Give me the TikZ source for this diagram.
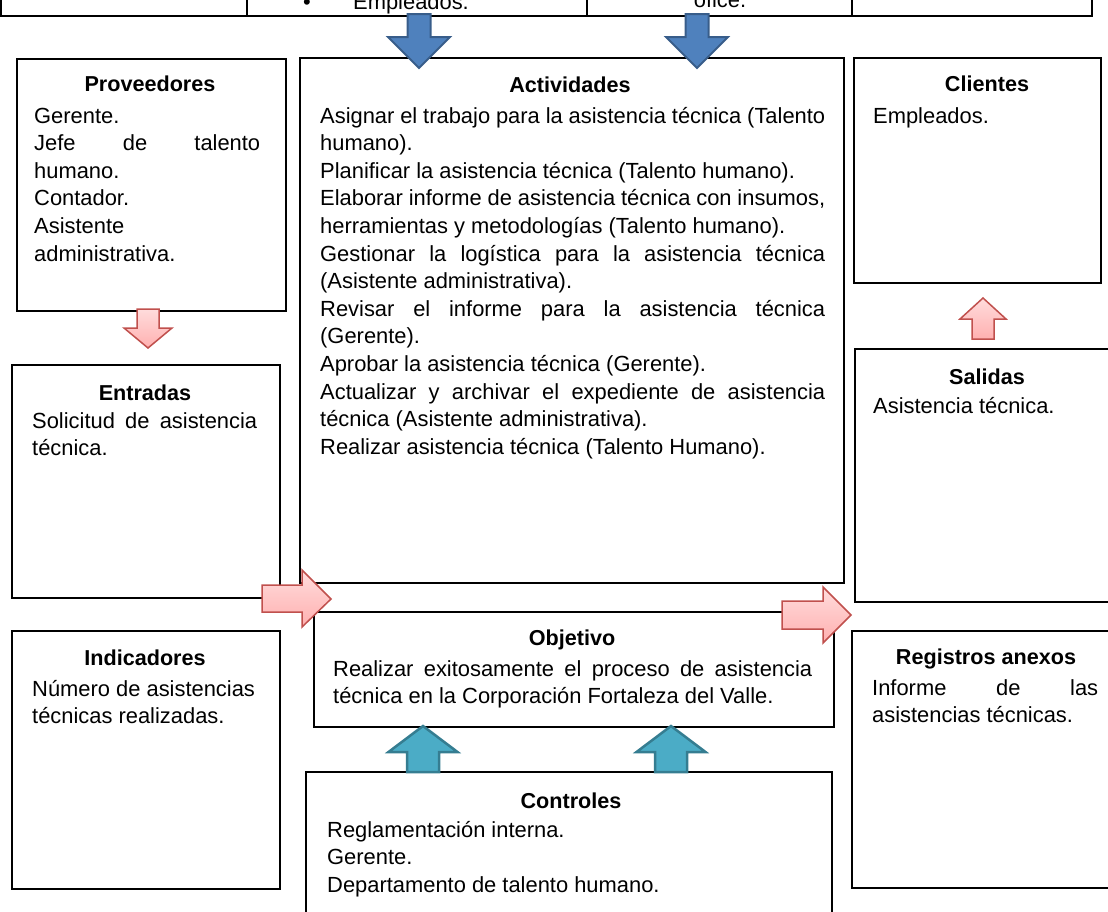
\documentclass[tikz,border=0pt]{standalone}
\usepackage{fontspec}
\setmainfont{Liberation Sans}
\definecolor{bluefill}{HTML}{4F81BD}
\definecolor{blueline}{HTML}{385D8A}
\definecolor{tealfill}{HTML}{4BACC6}
\definecolor{tealline}{HTML}{357D91}
\definecolor{pinkline}{HTML}{C0504D}
\definecolor{pinktop}{HTML}{FFDCDC}
\definecolor{pinkbot}{HTML}{FFB0B0}
\tolerance=10000
\hyphenpenalty=10000

\begin{document}
\begin{tikzpicture}[x=1pt,y=-1pt,
    box/.style={draw, line width=1.5pt, anchor=north west, inner sep=0pt},
    ttl/.style={anchor=base, inner sep=0pt, font=\fontsize{21.6}{27.6}\selectfont\bfseries},
    txt/.style={anchor=base west, inner sep=0pt, align=justify, font=\fontsize{21.9}{27.6}\selectfont},
    pinkarrow/.style={draw=pinkline, line width=1.5pt, top color=pinktop, bottom color=pinkbot},
    bluearrow/.style={draw=blueline, fill=bluefill, line width=2pt},
    tealarrow/.style={draw=tealline, fill=tealfill, line width=2.5pt}]
    \clip (0,0) rectangle (1108,911);
    \draw[line width=1.5pt] (1,-5) -- (1,16) -- (1092,16) -- (1092,-5);
    \foreach \xx in {247,587,852}
        \draw[line width=1.5pt] (\xx,-5) -- (\xx,16);
    \node[txt] (bul) at (303,9) {\textbullet};
    \node[txt] (emp) at (353,9) {Empleados.};
    \node[ttl, font=\fontsize{21.9}{27.6}\selectfont] (ofi) at (720,7) {ofice.};
    \node[box, minimum width=269pt, minimum height=252pt] (prov) at (16,58) {};
    \node[box, minimum width=544pt, minimum height=525pt] (act) at (299,57) {};
    \node[box, minimum width=247pt, minimum height=225pt] (cli) at (853,57) {};
    \node[box, minimum width=268pt, minimum height=233pt] (ent) at (11,364) {};
    \node[box, minimum width=270pt, minimum height=253pt] (sal) at (854,348) {};
    \node[box, minimum width=268pt, minimum height=258pt] (ind) at (11,630) {};
    \node[box, minimum width=520pt, minimum height=115pt] (obj) at (313,611) {};
    \node[box, minimum width=273pt, minimum height=257pt] (reg) at (851,630) {};
    \node[box, minimum width=526pt, minimum height=160pt] (ctl) at (305,771) {};
    \node[ttl] (provT) at (150,91) {Proveedores};
    \node[txt, text width=226pt] (provB) at (34,123) {Gerente.\\
        Jefe de talento\linebreak humano.\\
        Contador.\\
        Asistente\\
        administrativa.};
    \node[ttl] (actT) at (570,92) {Actividades};
    \node[txt, text width=505pt] (actB) at (320,123) {Asignar el trabajo para la asistencia técnica (Talento\linebreak humano).\\
        Planificar la asistencia técnica (Talento humano).\\
        Elaborar informe de asistencia técnica con insumos,\linebreak herramientas y metodologías (Talento humano).\\
        Gestionar la logística para la asistencia técnica\linebreak (Asistente administrativa).\\
        Revisar el informe para la asistencia técnica\linebreak (Gerente).\\
        Aprobar la asistencia técnica (Gerente).\\
        Actualizar y archivar el expediente de asistencia\linebreak técnica (Asistente administrativa).\\
        Realizar asistencia técnica (Talento Humano).};
    \node[ttl] (cliT) at (987,91) {Clientes};
    \node[txt] (cliB) at (873,123) {Empleados.};
    \node[ttl] (entT) at (145,400) {Entradas};
    \node[txt, text width=225pt] (entB) at (32,428) {Solicitud de asistencia\linebreak técnica.};
    \node[ttl] (salT) at (987,384) {Salidas};
    \node[txt] (salB) at (873,413) {Asistencia técnica.};
    \node[ttl] (indT) at (145,665) {Indicadores};
    \node[txt, text width=228pt] (indB) at (32,696) {Número de asistencias\\ técnicas realizadas.};
    \node[ttl] (objT) at (572,645) {Objetivo};
    \node[txt, text width=479pt] (objB) at (333,676) {Realizar exitosamente el proceso de asistencia\linebreak técnica en la Corporación Fortaleza del Valle.};
    \node[ttl] (regT) at (986,664) {Registros anexos};
    \node[txt, text width=226pt] (regB) at (872,695) {Informe de las\linebreak asistencias técnicas.};
    \node[ttl] (ctlT) at (571,808) {Controles};
    \node[txt, text width=480pt] (ctlB) at (327,837) {Reglamentación interna.\\
        Gerente.\\
        Departamento de talento humano.};
    \foreach \c in {419,697}
        \draw[bluearrow] (\c-11.5,14) -- (\c+11.5,14) -- (\c+11.5,37) -- (\c+31,37) -- (\c,68) -- (\c-31,37) -- (\c-11.5,37) -- cycle;
    \foreach \c in {423,671}
        \draw[tealarrow] (\c-16,772) -- (\c-16,752) -- (\c-34.5,752) -- (\c,726) -- (\c+34.5,752) -- (\c+16,752) -- (\c+16,772) -- cycle;
    \draw[pinkarrow] (137,309) -- (159,309) -- (159,328) -- (172,328) -- (148,348) -- (124,328) -- (137,328) -- cycle;
    \draw[pinkarrow] (972,339) -- (972,319) -- (960,319) -- (983,298) -- (1006,319) -- (994,319) -- (994,339) -- cycle;
    \draw[pinkarrow] (262,585) -- (302,585) -- (302,570) -- (331,599) -- (302,627) -- (302,612) -- (262,612) -- cycle;
    \draw[pinkarrow] (782,601) -- (823,601) -- (823,587) -- (851,615) -- (823,643) -- (823,629) -- (782,629) -- cycle;
\end{tikzpicture}
\end{document}
